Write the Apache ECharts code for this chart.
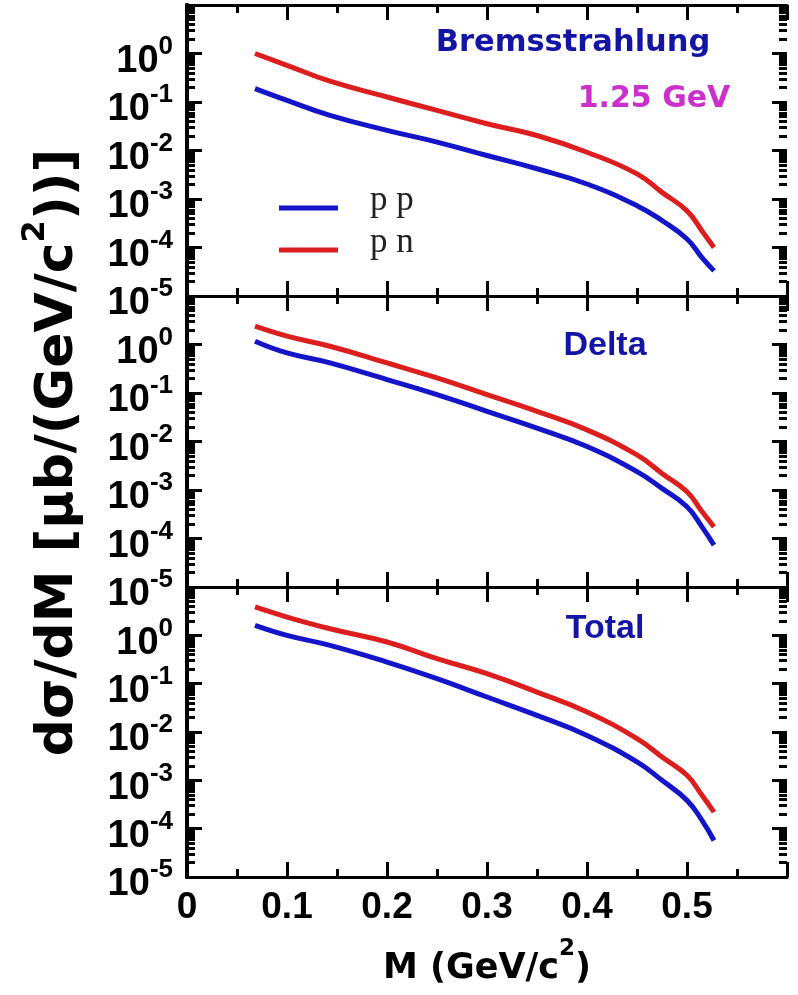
<!DOCTYPE html>
<html>
<head>
<meta charset="utf-8">
<title>dσ/dM – Bremsstrahlung, Delta, Total (1.25 GeV)</title>
<script src="https://cdn.jsdelivr.net/npm/echarts@6/dist/echarts.min.js"></script>
<style>
  html, body { margin: 0; padding: 0; background: #fff; }
  #chart { width: 798px; height: 995px; }
</style>
</head>
<body>
<div id="chart"></div>
<script>
// Dilepton invariant-mass points (GeV/c^2) shared by all curves
const massGeV = [0.068, 0.1, 0.143, 0.2, 0.25, 0.3, 0.35, 0.4, 0.45, 0.475, 0.5, 0.515, 0.527];

// dσ/dM in μb/(GeV/c^2)
const bremPP  = [0.189, 0.108, 0.053, 0.026, 0.0149, 0.0079, 0.0042, 0.00204, 7.3e-4, 3.6e-4, 1.5e-4, 6.2e-5, 3.3e-5];
const bremPN  = [1.0, 0.57, 0.268, 0.127, 0.067, 0.0356, 0.0204, 0.0092, 0.0033, 0.00137, 5.7e-4, 2.2e-4, 1.0e-4];
const deltaPP = [1.17, 0.67, 0.418, 0.189, 0.0925, 0.0418, 0.0189, 0.00787, 0.0024, 0.00108, 4.5e-4, 1.74e-4, 7.3e-5];
const deltaPN = [2.39, 1.49, 0.92, 0.418, 0.204, 0.0925, 0.0418, 0.0174, 0.0053, 0.0022, 9.2e-4, 3.6e-4, 1.74e-4];
const totalPP = [1.61, 1.0, 0.62, 0.28, 0.127, 0.053, 0.0221, 0.0085, 0.0024, 0.001, 3.85e-4, 1.49e-4, 5.7e-5];
const totalPN = [3.86, 2.39, 1.37, 0.728, 0.329, 0.161, 0.067, 0.026, 0.00728, 0.00304, 0.00127, 4.9e-4, 2.2e-4];

const panelNames = ['Bremsstrahlung', 'Delta', 'Total'];
const seriesNames = ['p p', 'p n'];
const energyLabel = '1.25 GeV';

// Axis ranges and tick values
const xTickValues = [0, 0.1, 0.2, 0.3, 0.4, 0.5, 0.6];
const yDecadeExponents = [-5, -4, -3, -2, -1, 0, 1];
const yMinorMultipliers = [2, 3, 4, 5, 6, 7, 8, 9];

const SANS = "'Liberation Sans', Arial, Helvetica, sans-serif";
const WIDE = "'DejaVu Sans', Verdana, sans-serif";
const SERIF = "'Liberation Serif', 'Times New Roman', serif";
const BLUE = '#1414c8';
const RED = '#dc1e1e';
const colors = [BLUE, RED];

const xMin = xTickValues[0];
const xMax = xTickValues[xTickValues.length - 1];
const yDecadeValues = yDecadeExponents.map(e => Math.pow(10, e));
const yMin = yDecadeValues[0];
const yMax = yDecadeValues[yDecadeValues.length - 1];
const yMinorValues = [];
yDecadeValues.slice(0, -1).forEach(d => {
  yMinorMultipliers.forEach(k => yMinorValues.push(k * d));
});

const GRID_LEFT = 187;
const GRID_RIGHT = 11;
const MAJOR_LEN = 15;
const MINOR_LEN = 8;

const grids = [
  { left: GRID_LEFT, right: GRID_RIGHT, top: 5, height: 291 },
  { left: GRID_LEFT, right: GRID_RIGHT, top: 296, height: 291 },
  { left: GRID_LEFT, right: GRID_RIGHT, top: 587, height: 290 }
];

const tickLine = () => ({ color: '#000', width: 3 });

function xAxisFor(g, position) {
  const bottomPanel = g === grids.length - 1 && position === 'bottom';
  const ax = {
    type: 'value', gridIndex: g, position: position,
    min: xMin, max: xMax, interval: 0.1,
    axisLine: { show: true, onZero: false, lineStyle: { color: '#000', width: 3 } },
    axisTick: { show: true, inside: true, length: MAJOR_LEN, lineStyle: tickLine() },
    minorTick: { show: true, splitNumber: 2, length: MINOR_LEN, lineStyle: tickLine() },
    splitLine: { show: false },
    axisLabel: {
      show: bottomPanel, margin: 12, color: '#000',
      fontFamily: SANS, fontSize: 37, fontWeight: 'bold',
      formatter: v => (v > 0.55 ? '' : (v === 0 ? '0' : Number(v).toFixed(1)))
    }
  };
  if (bottomPanel) {
    ax.name = '{t|M (GeV/c}{s|2}{t|)}';
    ax.nameLocation = 'middle';
    ax.nameGap = 61;
    ax.nameTextStyle = {
      color: '#000', fontFamily: WIDE, fontSize: 35, fontWeight: 'bold',
      rich: {
        t: { fontFamily: WIDE, fontSize: 35, fontWeight: 'bold', color: '#000', lineHeight: 48, verticalAlign: 'bottom' },
        s: { fontFamily: WIDE, fontSize: 23, fontWeight: 'bold', color: '#000', verticalAlign: 'top' }
      }
    };
  }
  return ax;
}

// Frame edge with labels (left) or plain edge (right)
function yMainAxis(g, position) {
  const ax = {
    type: 'log', logBase: 10, gridIndex: g, position: position,
    min: yMin, max: yMax, splitNumber: 6,
    splitLine: { show: false },
    axisLine: { show: true, lineStyle: { color: '#000', width: 4 } },
    axisTick: { show: false },
    axisLabel: { show: false }
  };
  if (position === 'left') {
    ax.axisLabel = {
      show: true, margin: 14, color: '#000',
      customValues: yDecadeValues.slice(0, -1),
      formatter: v => '{b|10}{s|' + Math.round(Math.log10(v)) + '}',
      rich: {
        b: { fontFamily: SANS, fontSize: 38, fontWeight: 'bold', color: '#000', lineHeight: 54, verticalAlign: 'bottom' },
        s: { fontFamily: SANS, fontSize: 26, fontWeight: 'bold', color: '#000', verticalAlign: 'top', padding: [7, 0, 0, 0] }
      }
    };
  }
  if (position === 'left' && g === 1) {
    ax.name = '{t|dσ/dM [μb/(GeV/c}{s|2}{t|))]}';
    ax.nameLocation = 'middle';
    ax.nameRotate = 90;
    ax.nameGap = 103;
    ax.nameTextStyle = {
      color: '#000', fontFamily: WIDE, fontSize: 52, fontWeight: 'bold',
      padding: [0, 22, 0, 0],
      rich: {
        t: { fontFamily: WIDE, fontSize: 52, fontWeight: 'bold', color: '#000', lineHeight: 64, verticalAlign: 'bottom' },
        s: { fontFamily: WIDE, fontSize: 32, fontWeight: 'bold', color: '#000', verticalAlign: 'top' }
      }
    };
  }
  return ax;
}

// Tick-only log axis overlaid on a frame edge
function yTickAxis(g, position, values, len) {
  return {
    type: 'log', logBase: 10, gridIndex: g, position: position,
    min: yMin, max: yMax, splitNumber: 6,
    splitLine: { show: false },
    axisLine: { show: false, lineStyle: { color: '#000', width: 4 } },
    axisTick: { inside: true, length: len, lineStyle: tickLine(), customValues: values },
    axisLabel: { show: false }
  };
}

const Y_PER_GRID = 6;
const xAxes = [];
const yAxes = [];
grids.forEach((_, g) => {
  xAxes.push(xAxisFor(g, 'bottom'), xAxisFor(g, 'top'));
  yAxes.push(
    yMainAxis(g, 'left'), yMainAxis(g, 'right'),
    yTickAxis(g, 'left', yMinorValues, MINOR_LEN), yTickAxis(g, 'right', yMinorValues, MINOR_LEN),
    yTickAxis(g, 'left', yDecadeValues, MAJOR_LEN), yTickAxis(g, 'right', yDecadeValues, MAJOR_LEN)
  );
});

const panelData = [[bremPP, bremPN], [deltaPP, deltaPN], [totalPP, totalPN]];
const series = [];
panelData.forEach((pair, g) => {
  pair.forEach((vals, s) => {
    series.push({
      name: seriesNames[s], type: 'line', xAxisIndex: 2 * g, yAxisIndex: Y_PER_GRID * g,
      data: massGeV.map((m, i) => [m, vals[i]]),
      smooth: 0.45, showSymbol: false, symbol: 'none',
      lineStyle: { color: colors[s], width: 5 }, itemStyle: { color: colors[s] },
      silent: true, z: 3
    });
  });
});

// Panel captions and the key for the two reaction channels
const graphic = [
  { type: 'text', x: 573, y: 43, style: { text: panelNames[0], fill: '#1515a5', align: 'center', verticalAlign: 'middle', fontFamily: WIDE, fontSize: 30.5, fontWeight: 'bold' } },
  { type: 'text', x: 654, y: 99, style: { text: energyLabel, fill: '#cc30cc', align: 'center', verticalAlign: 'middle', fontFamily: WIDE, fontSize: 30, fontWeight: 'bold' } },
  { type: 'text', x: 605, y: 346, style: { text: panelNames[1], fill: '#1515a5', align: 'center', verticalAlign: 'middle', fontFamily: SANS, fontSize: 34, fontWeight: 'bold' } },
  { type: 'text', x: 605, y: 629, style: { text: panelNames[2], fill: '#1515a5', align: 'center', verticalAlign: 'middle', fontFamily: SANS, fontSize: 34, fontWeight: 'bold' } }
];
const keyTop = 208;
const keyStep = 42;
seriesNames.forEach((name, i) => {
  const cy = keyTop + i * keyStep;
  graphic.push(
    { type: 'line', shape: { x1: 279, y1: cy, x2: 338, y2: cy }, style: { stroke: colors[i], lineWidth: 5 } },
    { type: 'text', x: 370, y: cy - 7, style: { text: name, fill: '#222', align: 'left', verticalAlign: 'middle', fontFamily: SERIF, fontSize: 35 } }
  );
});

const chart = echarts.init(document.getElementById('chart'), null, { renderer: 'canvas' });
chart.setOption({
  animation: false,
  backgroundColor: '#fff',
  grid: grids.map(g => Object.assign({ containLabel: false, outerBoundsMode: 'none' }, g)),
  xAxis: xAxes,
  yAxis: yAxes,
  graphic: graphic,
  series: series
});
</script>
</body>
</html>
